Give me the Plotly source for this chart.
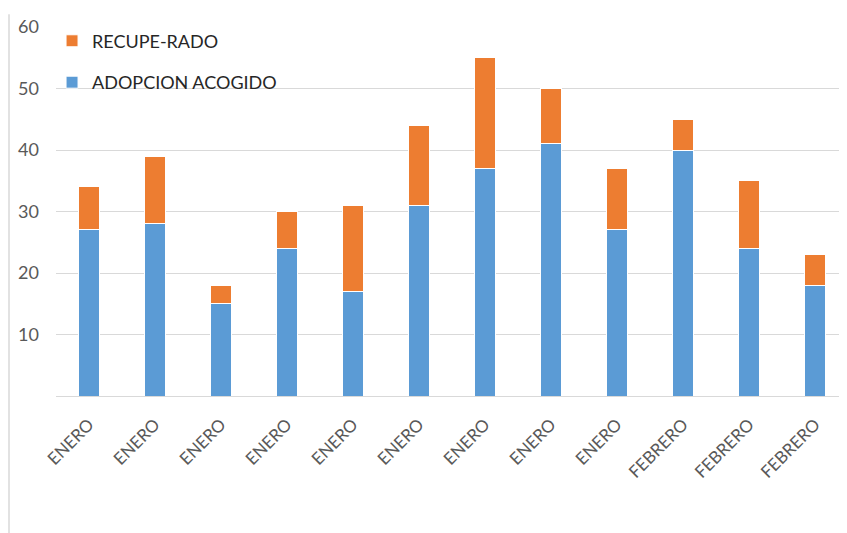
import plotly.graph_objects as go

# ── Data ─────────────────────────────────────────────────────────────────────
meses = ["ENERO", "ENERO", "ENERO", "ENERO", "ENERO", "ENERO",
         "ENERO", "ENERO", "ENERO", "FEBRERO", "FEBRERO", "FEBRERO"]
adopcion = [27, 28, 15, 24, 17, 31, 37, 41, 27, 40, 24, 18]
recuperado = [7, 11, 3, 6, 14, 13, 18, 9, 10, 5, 11, 5]
y_ticks = [10, 20, 30, 40, 50, 60]

# ── Theme ────────────────────────────────────────────────────────────────────
BLUE = "#5B9BD5"
ORANGE = "#ED7D31"
GRID = "#D9D9D9"
TICK_TEXT = "#595959"
FONT = "Lato, 'Liberation Sans', Arial, sans-serif"

# page body adds 8px margin, so the layout is offset by that
L, T, B, PW, PH = 48, 13, 145, 792, 375

idx = list(range(len(meses)))

fig = go.Figure()
fig.add_trace(go.Bar(
    x=idx, y=adopcion, name="ADOPCION ACOGIDO",
    marker=dict(color=BLUE, line=dict(color="#FFFFFF", width=1)),
    legendgroup="b", legendrank=2,
))
fig.add_trace(go.Bar(
    x=idx, y=recuperado, name="RECUPE-RADO",
    marker=dict(color=ORANGE, line=dict(color="#FFFFFF", width=1)),
    legendgroup="a", legendrank=1,
))

fig.update_layout(
    width=847, height=533,
    barmode="stack",
    bargap=0.68,
    paper_bgcolor="white",
    plot_bgcolor="white",
    font=dict(family=FONT, color=TICK_TEXT),
    margin=dict(l=L, r=847 - L - PW, t=T, b=B),
    showlegend=True,
    legend=dict(
        x=-0.005, y=1.012, xanchor="left", yanchor="top",
        traceorder="grouped",
        tracegroupgap=15,
        font=dict(size=18, color="#262626"),
        bgcolor="rgba(0,0,0,0)",
        itemwidth=30,
    ),
    xaxis=dict(
        tickmode="array", tickvals=idx, ticktext=meses,
        tickangle=-45,
        tickfont=dict(size=17, color=TICK_TEXT),
        showgrid=False,
        showline=True, linecolor=GRID, linewidth=1,
        ticks="", ticklabelstandoff=11,
        range=[-0.5, len(meses) - 0.5],
    ),
    yaxis=dict(
        range=[0, 60],
        tickvals=y_ticks,
        tickfont=dict(size=18, color=TICK_TEXT),
        showgrid=True, gridcolor=GRID, gridwidth=1,
        zeroline=False,
        ticks="", ticklabelstandoff=16,
    ),
    shapes=[dict(
        type="line", xref="paper", yref="paper",
        x0=-(L - 1) / PW, x1=-(L - 1) / PW, y0=-B / PH, y1=1 + T / PH,
        line=dict(color=GRID, width=1.5),
    )],
)

fig.write_html("out.html")
